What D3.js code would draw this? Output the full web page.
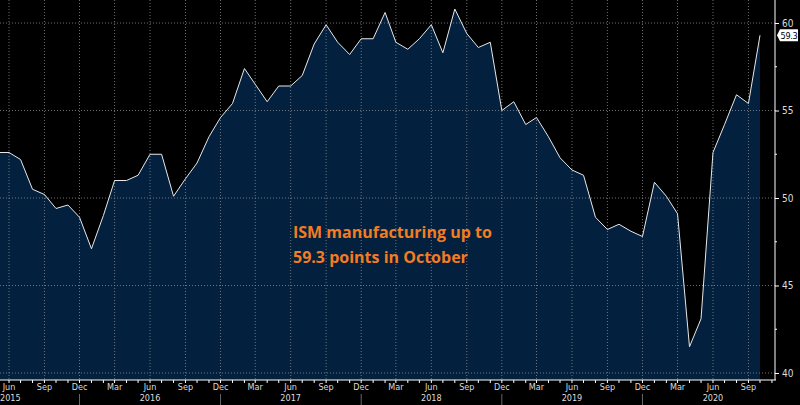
<!DOCTYPE html>
<html><head><meta charset="utf-8">
<script src="https://cdn.jsdelivr.net/npm/d3@7"></script>
<style>body{margin:0;background:#000}svg{display:block}</style>
</head><body><svg id="c" width="800" height="405"></svg>
<script>
// ISM manufacturing PMI, monthly May 2015 .. Oct 2020
const startMonth = new Date(2015, 4, 1);
const ismValues = [52.6, 52.6, 52.2, 50.5, 50.2, 49.4, 49.6, 48.9,
  47.1, 49.0, 51.0, 51.0, 51.3, 52.5, 52.5, 50.1, 51.1, 52.0, 53.5, 54.6,
  55.4, 57.4, 56.5, 55.5, 56.4, 56.4, 57.0, 58.8, 59.9, 58.9, 58.2, 59.1,
  59.1, 60.6, 58.9, 58.5, 59.1, 59.9, 58.3, 60.8, 59.4, 58.6, 58.9, 55.0,
  55.5, 54.2, 54.6, 53.5, 52.3, 51.6, 51.3, 48.9, 48.2, 48.5, 48.1, 47.8,
  50.9, 50.1, 49.1, 41.5, 43.1, 52.6, 54.2, 55.9, 55.4, 59.3];
const yTicks = [40, 45, 50, 55, 60];
const monthNames = ['Jan','Feb','Mar','Apr','May','Jun','Jul','Aug','Sep','Oct','Nov','Dec'];
const annotation = ['ISM manufacturing up to', '59.3 points in October'];

const data = ismValues.map((v, i) => ({date: d3.timeMonth.offset(startMonth, i), v}));
const svg = d3.select('#c');
const W = 775, H = 380;

const x = d3.scaleTime()
  .domain([new Date(2015, 5, 1), new Date(2020, 9, 1)]).range([9, 760]);
const y = d3.scaleLinear().domain([40, 60]).range([373, 23]);

const plot = svg.append('g');
plot.append('clipPath').attr('id', 'clip').append('rect').attr('width', W).attr('height', H);

// area
plot.append('path').datum(data).attr('clip-path', 'url(#clip)')
  .attr('fill', '#03203f')
  .attr('d', d3.area().x(d => x(d.date)).y0(H).y1(d => y(d.v)));

// grid
const quarters = d3.timeMonth.range(new Date(2015, 5, 1), new Date(2020, 9, 2)).filter(d => d.getMonth() % 3 === 2);
plot.selectAll('.vg').data(quarters).join('line')
  .attr('x1', d => x(d)).attr('x2', d => x(d)).attr('y1', 0).attr('y2', H)
  .attr('stroke', '#8a8a8a').attr('stroke-dasharray', '1,2').attr('stroke-opacity', 0.8);
plot.selectAll('.hg').data(yTicks).join('line')
  .attr('x1', 0).attr('x2', W).attr('y1', d => y(d)).attr('y2', d => y(d))
  .attr('stroke', '#8a8a8a').attr('stroke-dasharray', '1,2').attr('stroke-opacity', 0.8);

// line
plot.append('path').datum(data).attr('clip-path', 'url(#clip)')
  .attr('fill', 'none').attr('stroke', '#e8e8e8').attr('stroke-width', 1)
  .attr('d', d3.line().x(d => x(d.date)).y(d => y(d.v)));

// axes frame
svg.append('line').attr('x1', 0).attr('x2', W + 1).attr('y1', H).attr('y2', H).attr('stroke', '#fff');
svg.append('line').attr('x1', W).attr('x2', W).attr('y1', 0).attr('y2', H).attr('stroke', '#fff');

// right axis
const yAxis = svg.append('g').attr('transform', `translate(${W},0)`)
  .call(d3.axisRight(y).tickValues(yTicks).tickSize(4).tickPadding(3));
yAxis.select('.domain').remove();
yAxis.selectAll('line').attr('stroke', '#fff');
yAxis.selectAll('text').attr('fill', '#ddd').style('font', '10px "DejaVu Sans Condensed", "DejaVu Sans"');
svg.append('g').attr('transform', `translate(${W},0)`).selectAll('line')
  .data(d3.range(42.5, 61, 5)).join('line')
  .attr('x1', 0).attr('x2', 2).attr('y1', d => y(d)).attr('y2', d => y(d)).attr('stroke', '#fff');

// last value label
const last = data[data.length - 1];
const lg = svg.append('g').attr('transform', `translate(${W + 2},${y(last.v)})`);
lg.append('path').attr('d', 'M0,0 L3,-6 H21 V6 H3 Z').attr('fill', '#fff');
lg.append('text').attr('x', 12).attr('y', 3.5).attr('text-anchor', 'middle').attr('fill', '#000')
  .style('font', '9px "DejaVu Sans Condensed", "DejaVu Sans"').style('letter-spacing', '-0.3px')
  .text(last.v.toFixed(1));

// bottom axis
const months = d3.timeMonth.range(new Date(2015, 4, 1), new Date(2020, 11, 1));
svg.append('g').selectAll('line').data(months).join('line')
  .attr('x1', d => x(d)).attr('x2', d => x(d)).attr('y1', H).attr('y2', H + 3).attr('stroke', '#fff');
svg.append('g').selectAll('text').data(quarters).join('text')
  .attr('x', d => x(d)).attr('y', H + 10).attr('text-anchor', 'middle').attr('fill', '#ddd')
  .style('font', '9px "DejaVu Sans Condensed", "DejaVu Sans"').text(d => monthNames[d.getMonth()]);
const years = [2015, 2016, 2017, 2018, 2019, 2020];
svg.append('g').selectAll('text').data(years).join('text')
  .attr('x', d => d === 2015 ? 0 : x(new Date(d, 5, 1))).attr('y', H + 21)
  .attr('text-anchor', d => d === 2015 ? 'start' : 'middle').attr('fill', '#ddd')
  .style('font', '9px "DejaVu Sans Condensed", "DejaVu Sans"').text(d => d);
svg.append('g').selectAll('line').data(years.slice(1)).join('line')
  .attr('x1', d => x(new Date(d - 1, 11, 1))).attr('x2', d => x(new Date(d - 1, 11, 1)))
  .attr('y1', H + 14).attr('y2', H + 25).attr('stroke', '#666');

// annotation
svg.append('g').selectAll('text').data(annotation).join('text')
  .attr('x', 293).attr('y', (d, i) => 238 + i * 25).attr('fill', '#f47c20')
  .style('font', 'bold 16px "Open Sans", sans-serif').text(d => d);
</script></body></html>
